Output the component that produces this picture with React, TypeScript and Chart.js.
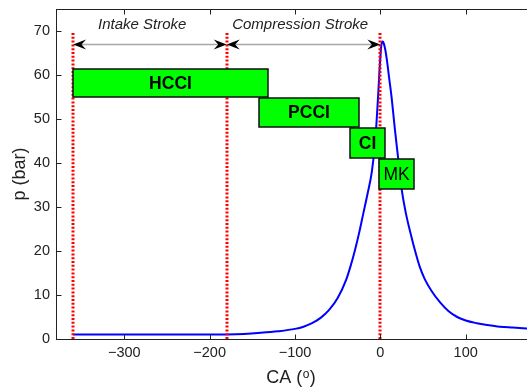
import React, { useEffect, useRef } from "react";
import { Chart, registerables } from "chart.js";

Chart.register(...registerables);

// ---- data ----
const crankAngle = [-360, -300, -240, -180, -160, -140, -120, -100, -90, -80, -70, -60, -50, -40, -35, -30, -25, -20, -15, -10, -6, -3, -1, 1, 2.5, 4, 6, 8, 10.5, 13, 17, 21, 25, 30, 35, 40, 46, 52, 60, 70, 80, 90, 100, 113, 125, 140, 155, 171, 180];
const pressure = [1.0, 1.0, 1.0, 1.05, 1.15, 1.4, 1.75, 2.3, 2.8, 3.6, 4.8, 6.6, 9.3, 13.5, 16.5, 20, 24, 28.5, 33, 38, 45, 54, 61, 66.5, 67.6, 67.2, 65.5, 62.9, 59, 55.2, 47.7, 40.8, 34, 28.5, 24.3, 20.5, 16.5, 13.6, 10.9, 8.3, 6.3, 5.0, 4.2, 3.6, 3.2, 2.8, 2.6, 2.4, 2.3];

const strokeMarks = [-360, -180, 0];
const strokeMarkTop = 69.7;
const strokeArrowLevel = 67;
const strokeLabels = ["Intake Stroke", "Compression Stroke"];
const strokeLabelX = [-279, -94];
const strokeLabelY = 70.4;

const modeLabels = ["HCCI", "PCCI", "CI", "MK"];
const modeStart = [-360, -142, -35, -2];
const modeEnd = [-132, -25, 6, 39];
const modeTop = [61.3, 54.7, 47.9, 41.0];
const modeBottom = [55.0, 48.2, 41.2, 34.2];
const modeBold = [true, true, true, false];

const xTicks = [-300, -200, -100, 0, 100];
const yTicks = [0, 10, 20, 30, 40, 50, 60, 70];

const FONT = '"Liberation Sans", Arial, Helvetica, sans-serif';

function arrowHead(ctx: CanvasRenderingContext2D, tx: number, ty: number, dir: number) {
  const L = 13, h = 5;
  ctx.beginPath();
  ctx.moveTo(tx, ty);
  ctx.lineTo(tx - dir * L, ty - h);
  ctx.lineTo(tx - dir * 0.65 * L, ty);
  ctx.lineTo(tx - dir * L, ty + h);
  ctx.closePath();
  ctx.fill();
}

const overlayPlugin = {
  id: "overlay",
  afterDatasetsDraw(chart: any) {
    const { ctx, scales } = chart;
    const x = scales.x, y = scales.y;
    ctx.save();
    ctx.strokeStyle = "#ff0000";
    ctx.lineWidth = 3;
    ctx.setLineDash([2, 1.8]);
    strokeMarks.forEach((v) => {
      const px = Math.round(x.getPixelForValue(v));
      ctx.beginPath();
      ctx.moveTo(px, y.getPixelForValue(0));
      ctx.lineTo(px, y.getPixelForValue(strokeMarkTop));
      ctx.stroke();
    });
    ctx.setLineDash([]);

    modeLabels.forEach((lab, i) => {
      const x0 = Math.round(x.getPixelForValue(modeStart[i]));
      const x1 = Math.round(x.getPixelForValue(modeEnd[i]));
      const y0 = Math.round(y.getPixelForValue(modeTop[i]));
      const y1 = Math.round(y.getPixelForValue(modeBottom[i]));
      ctx.fillStyle = "#00ff00";
      ctx.fillRect(x0, y0, x1 - x0, y1 - y0);
      ctx.strokeStyle = "#111";
      ctx.lineWidth = 1.5;
      ctx.strokeRect(x0, y0, x1 - x0, y1 - y0);
      ctx.fillStyle = "#000";
      ctx.font = `${modeBold[i] ? "bold " : ""}17.5px ${FONT}`;
      ctx.textAlign = "center";
      ctx.textBaseline = "middle";
      ctx.fillText(lab, (x0 + x1) / 2, (y0 + y1) / 2 + 1);
    });

    const ay = Math.round(y.getPixelForValue(strokeArrowLevel)) + 0.5;
    for (let i = 0; i < strokeMarks.length - 1; i++) {
      const a = x.getPixelForValue(strokeMarks[i]);
      const b = x.getPixelForValue(strokeMarks[i + 1]);
      ctx.strokeStyle = "#a8a8a8";
      ctx.lineWidth = 1.5;
      ctx.beginPath();
      ctx.moveTo(a + 6, ay);
      ctx.lineTo(b - 6, ay);
      ctx.stroke();
      ctx.fillStyle = "#000";
      arrowHead(ctx, a, ay, -1);
      arrowHead(ctx, b, ay, 1);
    }

    ctx.fillStyle = "#222";
    ctx.font = `italic 15px ${FONT}`;
    ctx.textAlign = "center";
    ctx.textBaseline = "alphabetic";
    strokeLabels.forEach((t, i) => {
      ctx.fillText(t, x.getPixelForValue(strokeLabelX[i]), y.getPixelForValue(strokeLabelY));
    });
    ctx.restore();
  },
  afterDraw(chart: any) {
    const { ctx, chartArea: a, scales } = chart;
    const x = scales.x, y = scales.y;
    ctx.save();
    const L = Math.round(a.left) + 0.5, R = Math.round(a.right) + 0.5;
    const T = Math.round(a.top) + 0.5, B = Math.round(a.bottom) + 0.5;
    ctx.strokeStyle = "#222";
    ctx.lineWidth = 1;
    ctx.strokeRect(L, T, R - L, B - T);
    ctx.beginPath();
    xTicks.forEach((v) => {
      const px = Math.round(x.getPixelForValue(v)) + 0.5;
      ctx.moveTo(px, B); ctx.lineTo(px, B - 5);
      ctx.moveTo(px, T); ctx.lineTo(px, T + 5);
    });
    yTicks.forEach((v) => {
      const py = Math.round(y.getPixelForValue(v)) + 0.5;
      ctx.moveTo(L, py); ctx.lineTo(L + 5, py);
      ctx.moveTo(R, py); ctx.lineTo(R - 5, py);
    });
    ctx.stroke();

    ctx.fillStyle = "#222";
    ctx.textBaseline = "alphabetic";
    const big = `18px ${FONT}`, small = `12px ${FONT}`;
    ctx.font = big;
    const w1 = ctx.measureText("CA (").width;
    const w3 = ctx.measureText(")").width;
    ctx.font = small;
    const w2 = ctx.measureText("o").width + 1;
    const cx = (a.left + a.right) / 2 - 4;
    const sx = cx - (w1 + w2 + w3) / 2;
    const by = 383;
    ctx.textAlign = "left";
    ctx.font = big;
    ctx.fillText("CA (", sx, by);
    ctx.font = small;
    ctx.fillText("o", sx + w1 + 0.5, by - 5);
    ctx.font = big;
    ctx.fillText(")", sx + w1 + w2, by);

    ctx.translate(25, (a.top + a.bottom) / 2);
    ctx.rotate(-Math.PI / 2);
    ctx.textAlign = "center";
    ctx.font = big;
    ctx.fillText("p (bar)", 0, 0);
    ctx.restore();
  },
};

export default function App() {
  const ref = useRef<HTMLCanvasElement>(null);
  useEffect(() => {
    if (!ref.current) return;
    const chart = new Chart(ref.current, {
      type: "line",
      data: {
        datasets: [
          {
            data: crankAngle.map((c, i) => ({ x: c, y: pressure[i] })),
            borderColor: "#0000ff",
            borderWidth: 2,
            pointRadius: 0,
            cubicInterpolationMode: "monotone",
            fill: false,
          },
        ],
      },
      options: {
        responsive: false,
        animation: false,
        events: [],
        layout: { padding: { top: 9, right: 6, left: 0, bottom: 0 } },
        plugins: { legend: { display: false }, tooltip: { enabled: false }, title: { display: false } },
        scales: {
          x: {
            type: "linear",
            min: -380,
            max: 180,
            grid: { display: false, drawTicks: false },
            border: { display: false },
            afterBuildTicks: (s: any) => {
              s.ticks = xTicks.map((v) => ({ value: v }));
            },
            afterFit: (s: any) => {
              s.height = 48;
              s.paddingLeft = 0;
              s.paddingRight = 0;
            },
            ticks: {
              padding: 5,
              maxRotation: 0,
              autoSkip: false,
              color: "#222",
              font: { family: FONT, size: 14.5 },
              callback: (v: any) => (Number(v) < 0 ? "\u2212" + Math.abs(Number(v)) : String(v)),
            },
          },
          y: {
            type: "linear",
            min: 0,
            max: 75,
            grid: { display: false, drawTicks: false },
            border: { display: false },
            afterBuildTicks: (s: any) => {
              s.ticks = yTicks.map((v) => ({ value: v }));
            },
            afterFit: (s: any) => {
              s.width = 56;
              s.paddingTop = 0;
              s.paddingBottom = 0;
            },
            ticks: {
              padding: 6,
              autoSkip: false,
              color: "#222",
              font: { family: FONT, size: 14.5 },
            },
          },
        },
      },
      plugins: [overlayPlugin],
    });
    return () => chart.destroy();
  }, []);
  return (
    <div style={{ position: "fixed", left: 0, top: 0, width: 527, height: 387, overflow: "hidden", background: "#fff" }}>
      <canvas ref={ref} width={540} height={387} style={{ display: "block" }} />
    </div>
  );
}
